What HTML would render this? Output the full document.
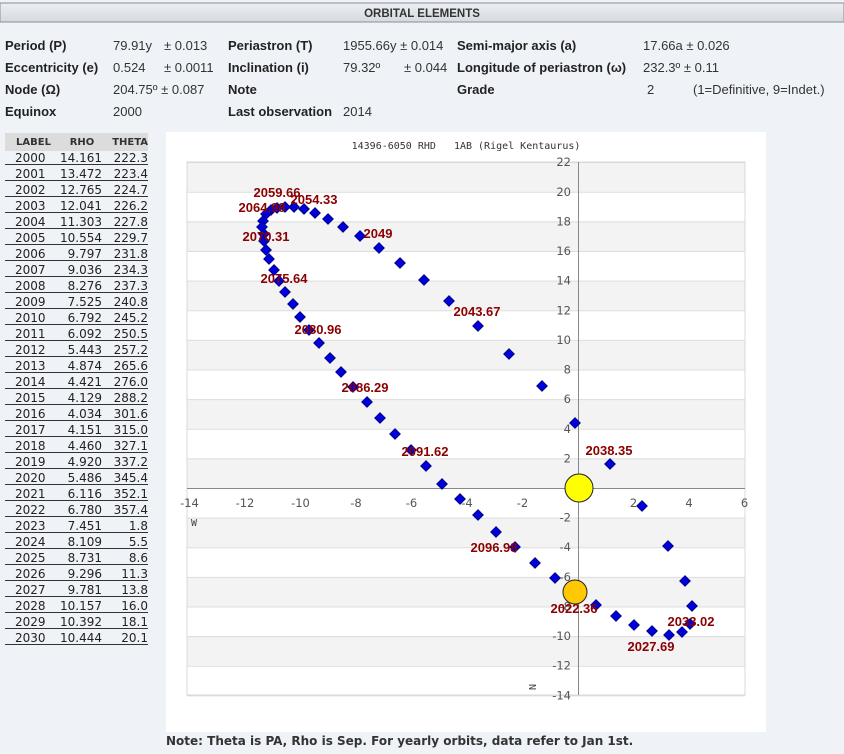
<!DOCTYPE html>
<html><head><meta charset="utf-8"><style>
html,body{margin:0;padding:0;background:#eff3f8;}
svg{display:block;}
.b{font-family:"Liberation Sans",sans-serif;font-weight:bold;font-size:13px;fill:#222;}
.v{font-family:"Liberation Sans",sans-serif;font-size:13px;fill:#333;}
.t{font-family:"DejaVu Sans",sans-serif;font-size:12px;fill:#222;}
.th{font-family:"DejaVu Sans",sans-serif;font-size:10px;font-weight:bold;fill:#333;}
.ax{font-family:"DejaVu Sans",sans-serif;font-size:11.5px;fill:#555;}
.lb{font-family:"Liberation Sans",sans-serif;font-weight:bold;font-size:13px;fill:#8b0000;}
</style></head><body>
<svg width="844" height="754" xmlns="http://www.w3.org/2000/svg">
<defs><linearGradient id="hg" x1="0" y1="0" x2="0" y2="1"><stop offset="0" stop-color="#eceff3"/><stop offset="1" stop-color="#d5dae0"/></linearGradient></defs>
<rect x="0" y="3" width="844" height="19" fill="url(#hg)" stroke="#8a8f96"/>
<text x="422" y="17" text-anchor="middle" font-family="Liberation Sans,sans-serif" font-weight="bold" font-size="11.5" fill="#333">ORBITAL ELEMENTS</text>
<text class="b" x="5" y="50">Period (P)</text><text class="v" x="113" y="50">79.91y</text><text class="v" x="164" y="50">± 0.013</text>
<text class="b" x="228" y="50">Periastron (T)</text><text class="v" x="343" y="50">1955.66y ± 0.014</text>
<text class="b" x="457" y="50">Semi-major axis (a)</text><text class="v" x="643" y="50">17.66a ± 0.026</text>
<text class="b" x="5" y="72">Eccentricity (e)</text><text class="v" x="113" y="72">0.524</text><text class="v" x="164" y="72">± 0.0011</text>
<text class="b" x="228" y="72">Inclination (i)</text><text class="v" x="343" y="72">79.32º</text><text class="v" x="404" y="72">± 0.044</text>
<text class="b" x="457" y="72">Longitude of periastron (ω)</text><text class="v" x="643" y="72">232.3º ± 0.11</text>
<text class="b" x="5" y="94">Node (Ω)</text><text class="v" x="113" y="94">204.75º ± 0.087</text>
<text class="b" x="228" y="94">Note</text><text class="b" x="457" y="94">Grade</text><text class="v" x="647" y="94">2</text><text class="v" x="693" y="94">(1=Definitive, 9=Indet.)</text>
<text class="b" x="5" y="116">Equinox</text><text class="v" x="113" y="116">2000</text>
<text class="b" x="228" y="116">Last observation</text><text class="v" x="343" y="116">2014</text>

<rect x="5" y="133" width="143" height="18" fill="#dcdcdc"/>
<text class="th" x="16" y="145">LABEL</text><text class="th" x="82" y="145" text-anchor="middle">RHO</text><text class="th" x="148" y="145" text-anchor="end">THETA</text>
<g id="tbl"></g>

<rect x="166" y="132" width="600" height="600" fill="#fff"/>
<text x="466" y="149" text-anchor="middle" font-family="DejaVu Sans Mono,monospace" font-size="10" fill="#333" xml:space="preserve">14396-6050 RHD   1AB (Rigel Kentaurus)</text>
<g id="plot"></g>
<text x="166" y="745" font-family="DejaVu Sans,sans-serif" font-weight="bold" font-size="12" fill="#333">Note: Theta is PA, Rho is Sep. For yearly orbits, data refer to Jan 1st.</text>
</svg>
<script>
var NS="http://www.w3.org/2000/svg";
function el(p,t,a,txt){var e=document.createElementNS(NS,t);for(var k in a)e.setAttribute(k,a[k]);if(txt!=null)e.textContent=txt;p.appendChild(e);return e;}
var rows=[[2000,"14.161","222.3"],[2001,"13.472","223.4"],[2002,"12.765","224.7"],[2003,"12.041","226.2"],[2004,"11.303","227.8"],[2005,"10.554","229.7"],[2006,"9.797","231.8"],[2007,"9.036","234.3"],[2008,"8.276","237.3"],[2009,"7.525","240.8"],[2010,"6.792","245.2"],[2011,"6.092","250.5"],[2012,"5.443","257.2"],[2013,"4.874","265.6"],[2014,"4.421","276.0"],[2015,"4.129","288.2"],[2016,"4.034","301.6"],[2017,"4.151","315.0"],[2018,"4.460","327.1"],[2019,"4.920","337.2"],[2020,"5.486","345.4"],[2021,"6.116","352.1"],[2022,"6.780","357.4"],[2023,"7.451","1.8"],[2024,"8.109","5.5"],[2025,"8.731","8.6"],[2026,"9.296","11.3"],[2027,"9.781","13.8"],[2028,"10.157","16.0"],[2029,"10.392","18.1"],[2030,"10.444","20.1"]];
var tb=document.getElementById("tbl");
rows.forEach(function(r,i){var y=162+16*i;
el(tb,"text",{"class":"t",x:15,y:y},r[0]);el(tb,"text",{"class":"t",x:102,y:y,"text-anchor":"end"},r[1]);el(tb,"text",{"class":"t",x:148,y:y,"text-anchor":"end"},r[2]);
el(tb,"line",{x1:5,x2:148,y1:164.5+16*i,y2:164.5+16*i,stroke:"#333","stroke-width":1});});
var P=document.getElementById("plot");
var X0=578,Y0=488,sx=27.75,sy=14.81;
function px(v){return X0+v*sx;}function py(v){return Y0-v*sy;}
for(var v=22;v>-14;v-=2){ if(((22-v)/2)%2==0) el(P,"rect",{x:187,y:py(v),width:558,height:2*sy,fill:"#f3f3f3"}); }
for(var v=22;v>=-14;v-=2){ el(P,"line",{x1:187,x2:745,y1:py(v)+.5,y2:py(v)+.5,stroke:"#ddd"}); }
el(P,"rect",{x:187,y:162,width:558,height:533,fill:"none",stroke:"#d8d8d8"});
el(P,"line",{x1:187,x2:745,y1:Y0+.5,y2:Y0+.5,stroke:"#888"});
el(P,"line",{x1:X0+.5,x2:X0+.5,y1:162,y2:695,stroke:"#888"});
for(var v=-14;v<=6;v+=2){ if(v==0)continue; el(P,"text",{"class":"ax",x:px(v),y:507,"text-anchor":"middle"},String(v)); }
for(var v=22;v>=-14;v-=2){ if(v==0)continue; el(P,"text",{"class":"ax",x:571,y:py(v)+4,"text-anchor":"end"},String(v)); }
el(P,"text",{x:191,y:526,"font-family":"DejaVu Sans Mono,monospace","font-size":"10",fill:"#444"},"W");
el(P,"text",{x:0,y:0,"font-family":"DejaVu Sans Mono,monospace","font-size":"10",fill:"#444",transform:"translate(529,684) rotate(90)"},"N");
var pts=[[596,605],[616,616],[634,625],[652,631],[669,635],[682,632],[690,624],[692,606],[685,581],[668,546],[642,506],[610,464],[575,423],[542,386],[509,354],[478,326],[449,301],[424,280],[400,263],[379,248],[360,236],[343,227],[328,219],[315,213],[304,209],[294,207],[285,207],[277,208],[271,210],[266,214],[263,221],[262,227],[264,234],[264,241],[266,250],[269,259],[274,270],[279,281],[285,292],[293,304],[300,317],[309,330],[319,343],[330,358],[341,372],[353,387],[367,402],[380,418],[395,434],[411,450],[426,466],[442,484],[460,499],[478,515],[496,532],[515,547],[535,563],[555,578]];
pts.forEach(function(p){var x=p[0],y=p[1],s=5.5;el(P,"path",{d:"M"+x+" "+(y-s)+"L"+(x+s)+" "+y+"L"+x+" "+(y+s)+"L"+(x-s)+" "+y+"Z",fill:"#0000d8",stroke:"#000060","stroke-width":"0.6"});});
el(P,"circle",{cx:579,cy:488,r:14,fill:"#ffff00",stroke:"#222"});
el(P,"circle",{cx:575,cy:592,r:12,fill:"#ffc800",stroke:"#222"});
var labs=[["2059.66",277,192],["2054.33",314,199],["2064.98",262,207],["2070.31",266,236],["2049",378,233],["2075.64",284,278],["2080.96",318,329],["2086.29",365,387],["2091.62",425,451],["2043.67",477,311],["2038.35",609,450],["2096.98",494,547],["2022.36",574,608],["2033.02",691,621],["2027.69",651,646]];
labs.forEach(function(l){el(P,"text",{"class":"lb",x:l[1],y:l[2]+5,"text-anchor":"middle"},l[0]);});
</script>
</body></html>
